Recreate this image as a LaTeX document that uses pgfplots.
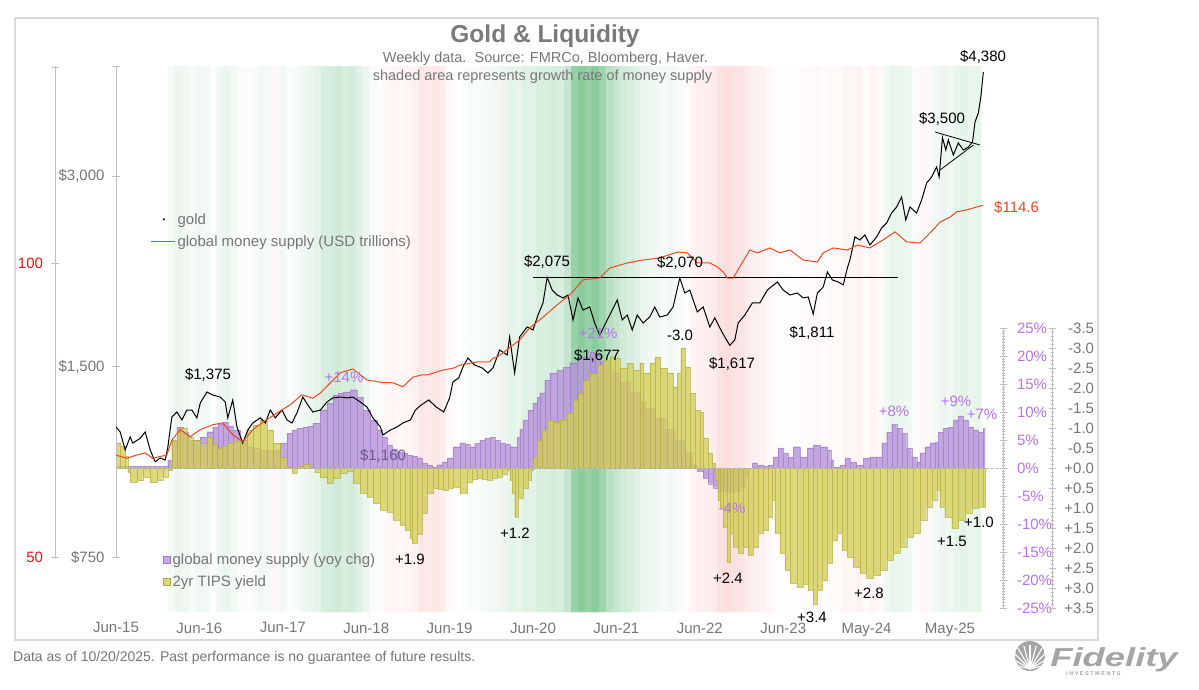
\documentclass[border=0pt]{standalone}
\usepackage{fontspec}
\setmainfont{Liberation Sans}
\usepackage{pgfplots}
\usepackage{pgfplotstable}
\pgfplotsset{compat=1.18}
\pgfplotsset{/pgf/number format/assume math mode=true}

\definecolor{txtgray}{RGB}{118,118,118}
\definecolor{ttlgray}{RGB}{122,122,122}
\definecolor{framegray}{RGB}{218,218,218}
\definecolor{axgray}{RGB}{190,190,190}
\definecolor{moneyred}{RGB}{234,72,30}
\definecolor{lblred}{RGB}{228,20,20}
\definecolor{purp}{RGB}{184,148,220}
\definecolor{purpD}{RGB}{160,124,200}
\definecolor{purptxt}{RGB}{183,115,232}
\definecolor{yel}{RGB}{212,206,86}
\definecolor{yelD}{RGB}{178,172,60}
\definecolor{purpgray}{RGB}{108,88,140}
\definecolor{logogray}{RGB}{165,165,165}

\newcommand{\fnt}{\fontsize{15}{18}\selectfont}

% shading: month index since Jun-15, signed growth intensity
\pgfplotstableread{
k c
0 0
1 0
2 0
3 0
4 0
5 0
6 0
7 0
8 0.08
9 0.15
10 0.12
11 0.06
12 0.12
13 0.10
14 0.02
15 0.12
16 0.15
17 0.10
18 0.05
19 0.04
20 0.06
21 0.10
22 0.08
23 -0.15
24 0.10
25 0.04
26 0.06
27 0.12
28 0.15
29 0.20
30 0.30
31 0.32
32 0.35
33 0.30
34 0.33
35 0.25
36 0.15
37 0.05
38 0.03
39 -0.15
40 -0.20
41 -0.15
42 -0.20
43 -0.25
44 -0.45
45 -0.40
46 -0.45
47 -0.35
48 -0.10
49 -0.03
50 0.03
51 0.06
52 0.04
53 0.08
54 0.10
55 0.12
56 0.15
57 0.20
58 0.18
59 0.25
60 0.22
61 0.30
62 0.28
63 0.32
64 0.30
65 0.45
66 0.80
67 0.90
68 0.80
69 0.90
70 0.75
71 0.55
72 0.45
73 0.35
74 0.30
75 0.25
76 0.15
77 0.12
78 0.10
79 0.08
80 0.10
81 0.06
82 0.04
83 -0.20
84 -0.30
85 -0.30
86 -0.35
87 -0.55
88 -0.60
89 -0.55
90 -0.50
91 -0.35
92 -0.30
93 -0.25
94 -0.15
95 -0.05
96 0.02
97 -0.05
98 0.00
99 -0.08
100 -0.10
101 -0.15
102 -0.08
103 -0.12
104 -0.10
105 -0.20
106 -0.15
107 -0.25
108 -0.10
109 -0.20
110 -0.10
111 0.12
112 0.18
113 0.15
114 0.12
115 0.05
116 -0.15
117 -0.12
118 0.10
119 0.15
120 0.12
121 0.18
122 0.20
123 0.15
124 0.18
}\shadeT
\pgfplotstablevertcat{\shadeTT}{\shadeT}
\pgfplotstablevertcat{\shadeTT}{\shadeT}

\pgfplotstableread{
x p
2015.45 1204
2015.50 1182
2015.56 1107
2015.62 1161
2015.65 1135
2015.74 1155
2015.80 1182
2015.86 1107
2015.92 1060
2015.98 1075
2016.04 1067
2016.07 1115
2016.12 1248
2016.18 1271
2016.24 1235
2016.30 1280
2016.36 1280
2016.42 1244
2016.46 1313
2016.54 1367
2016.61 1352
2016.70 1342
2016.76 1318
2016.79 1244
2016.85 1328
2016.90 1204
2016.97 1135
2017.03 1190
2017.09 1221
2017.18 1244
2017.24 1221
2017.30 1280
2017.36 1244
2017.44 1280
2017.50 1235
2017.56 1221
2017.62 1267
2017.69 1342
2017.75 1304
2017.81 1271
2017.90 1280
2017.98 1318
2018.05 1338
2018.14 1342
2018.22 1338
2018.29 1342
2018.38 1318
2018.46 1294
2018.53 1244
2018.62 1204
2018.65 1169
2018.74 1190
2018.82 1204
2018.89 1221
2018.98 1235
2019.04 1280
2019.11 1304
2019.20 1328
2019.29 1294
2019.38 1271
2019.45 1338
2019.49 1418
2019.56 1439
2019.61 1497
2019.67 1547
2019.75 1508
2019.84 1492
2019.91 1465
2019.97 1492
2020.05 1593
2020.14 1564
2020.17 1670
2020.23 1465
2020.29 1670
2020.38 1732
2020.45 1713
2020.51 1809
2020.57 1890
2020.62 2075
2020.68 1981
2020.74 1946
2020.81 1925
2020.87 1946
2020.93 1777
2020.99 1925
2021.05 1842
2021.13 1863
2021.19 1757
2021.25 1680
2021.34 1777
2021.40 1842
2021.46 1911
2021.52 1777
2021.58 1809
2021.64 1713
2021.70 1809
2021.77 1757
2021.85 1796
2021.91 1863
2021.97 1796
2022.06 1809
2022.13 1863
2022.21 2070
2022.27 1960
2022.33 1981
2022.42 1829
2022.49 1863
2022.57 1732
2022.63 1790
2022.69 1726
2022.75 1670
2022.81 1620
2022.87 1652
2022.91 1757
2022.99 1809
2023.08 1890
2023.17 1890
2023.26 1981
2023.38 2040
2023.45 1981
2023.53 1946
2023.62 1960
2023.69 1925
2023.75 1932
2023.81 1815
2023.86 1960
2023.93 2003
2023.98 2116
2024.04 2055
2024.11 2040
2024.17 2018
2024.22 2147
2024.25 2210
2024.31 2403
2024.37 2377
2024.43 2420
2024.49 2334
2024.57 2403
2024.63 2483
2024.69 2528
2024.75 2622
2024.81 2680
2024.87 2779
2024.92 2556
2024.97 2680
2025.05 2622
2025.11 2749
2025.17 2925
2025.23 2989
2025.29 3100
2025.32 2989
2025.36 3450
2025.40 3298
2025.43 3420
2025.49 3238
2025.55 3383
2025.61 3298
2025.67 3334
2025.72 3395
2025.75 3651
2025.79 3773
2025.82 3999
2025.85 4380
}\goldT

\pgfplotstableread{
x m
2015.44 63.6
2015.58 63.1
2015.70 63.6
2015.80 63.9
2015.89 63.1
2016.06 63.6
2016.12 65.9
2016.22 67.5
2016.34 66.4
2016.46 67.5
2016.61 68.3
2016.73 68.6
2016.85 66.7
2016.97 65.6
2017.09 67.5
2017.21 68.7
2017.38 70.2
2017.54 71.6
2017.68 73.3
2017.81 72.7
2017.90 73.6
2018.02 75.4
2018.14 77.2
2018.29 77.9
2018.46 75.9
2018.62 75.5
2018.77 75.4
2018.89 74.7
2019.01 76.4
2019.11 76.8
2019.18 76.8
2019.37 77.7
2019.51 78.1
2019.57 78.6
2019.71 79.0
2019.78 79.2
2019.93 79.2
2019.97 79.9
2020.02 80.1
2020.14 81.5
2020.29 83.4
2020.41 85.8
2020.57 88.0
2020.74 90.6
2020.89 92.7
2021.05 96.1
2021.25 96.5
2021.37 98.8
2021.58 100.0
2021.77 100.7
2021.97 101.2
2022.18 102.6
2022.30 102.4
2022.42 100.0
2022.49 100.0
2022.57 100.0
2022.66 99.1
2022.73 97.9
2022.78 96.5
2022.85 96.5
2022.93 99.1
2023.05 103.1
2023.14 102.4
2023.29 103.6
2023.41 102.4
2023.53 103.1
2023.69 100.7
2023.86 100.2
2023.93 102.4
2024.05 103.6
2024.22 103.1
2024.34 104.3
2024.49 103.6
2024.65 105.6
2024.79 107.6
2024.93 105.1
2025.09 104.8
2025.21 107.3
2025.33 110.1
2025.45 111.4
2025.53 112.8
2025.65 113.3
2025.77 114.1
2025.85 114.6
}\moneyT

\pgfplotstableread{
x g
2015.45 0.3
2016.07 1.4
2016.12 5.0
2016.18 7.3
2016.25 6.5
2016.31 5.0
2016.37 5.0
2016.46 5.5
2016.54 6.5
2016.61 7.3
2016.67 7.8
2016.73 8.2
2016.79 7.5
2016.85 6.8
2016.94 5.0
2017.02 3.8
2017.09 3.5
2017.18 3.2
2017.26 3.2
2017.33 3.2
2017.42 4.5
2017.50 6.2
2017.56 6.8
2017.62 7.1
2017.69 7.3
2017.75 7.5
2017.81 8.0
2017.90 10.4
2017.98 11.6
2018.05 13.0
2018.11 13.4
2018.17 13.6
2018.26 14.0
2018.34 12.7
2018.41 10.4
2018.50 8.6
2018.58 6.8
2018.64 5.5
2018.70 4.1
2018.76 3.4
2018.82 2.9
2018.88 2.6
2018.94 2.3
2019.00 2.1
2019.06 1.8
2019.12 0.9
2019.18 0.5
2019.24 0.2
2019.30 0.6
2019.36 1.1
2019.42 1.8
2019.49 3.8
2019.57 4.5
2019.63 4.2
2019.69 3.8
2019.75 4.4
2019.81 5.0
2019.87 5.3
2019.93 5.5
2019.99 5.0
2020.05 4.5
2020.11 4.2
2020.17 3.8
2020.26 5.5
2020.29 7.0
2020.33 8.6
2020.39 10.4
2020.45 11.6
2020.50 12.6
2020.53 13.4
2020.59 15.7
2020.65 17.0
2020.74 17.5
2020.81 18.0
2020.89 18.8
2020.98 19.8
2021.05 19.8
2021.13 20.7
2021.19 20.2
2021.25 19.0
2021.37 17.0
2021.49 15.3
2021.61 13.5
2021.73 11.7
2021.80 10.7
2021.91 9.0
2022.03 7.0
2022.15 5.0
2022.27 2.8
2022.36 0.5
2022.42 -0.5
2022.49 -1.8
2022.55 -2.8
2022.61 -3.5
2022.67 -4.2
2022.75 -4.3
2022.85 -4.1
2022.93 -3.2
2022.99 -1.5
2023.03 0.0
2023.08 0.9
2023.14 0.5
2023.21 0.3
2023.27 0.5
2023.33 2.0
2023.39 3.6
2023.45 2.6
2023.51 2.0
2023.57 3.8
2023.65 2.0
2023.74 3.6
2023.81 4.1
2023.89 3.8
2023.98 3.2
2024.02 1.5
2024.05 0.2
2024.13 0.5
2024.19 1.8
2024.25 1.0
2024.33 0.5
2024.41 1.8
2024.49 2.0
2024.57 2.0
2024.63 4.5
2024.69 6.4
2024.75 7.8
2024.81 7.1
2024.87 6.2
2024.93 3.6
2024.99 2.0
2025.05 1.1
2025.09 2.7
2025.15 3.8
2025.21 4.5
2025.27 4.6
2025.31 6.4
2025.37 7.1
2025.43 7.3
2025.49 8.6
2025.55 9.3
2025.61 8.6
2025.67 7.3
2025.73 6.8
2025.79 6.4
2025.85 7.1
2025.87 7.1
}\purpT

\pgfplotstableread{
x t
2015.45 -0.62
2015.50 -0.55
2015.56 -0.30
2015.59 0.10
2015.62 0.35
2015.70 0.30
2015.77 0.22
2015.86 0.35
2015.94 0.30
2016.01 0.22
2016.07 0.05
2016.12 -0.70
2016.18 -0.90
2016.22 -1.00
2016.30 -0.78
2016.37 -0.70
2016.46 -0.62
2016.54 -0.78
2016.60 -0.60
2016.66 -0.50
2016.72 -0.55
2016.78 -0.62
2016.85 -0.68
2016.94 -0.70
2017.02 -0.95
2017.09 -1.07
2017.18 -1.20
2017.26 -0.95
2017.33 -0.62
2017.42 -0.28
2017.50 -0.02
2017.56 0.12
2017.62 -0.05
2017.69 -0.10
2017.78 0.00
2017.84 0.10
2017.90 0.22
2017.98 0.38
2018.05 0.25
2018.14 0.12
2018.22 0.08
2018.29 0.38
2018.38 0.62
2018.46 0.72
2018.53 0.88
2018.62 1.05
2018.70 1.10
2018.77 1.30
2018.86 1.42
2018.92 1.55
2018.98 1.75
2019.00 1.88
2019.06 1.65
2019.12 1.12
2019.18 0.62
2019.25 0.50
2019.31 0.52
2019.37 0.55
2019.43 0.50
2019.49 0.47
2019.57 0.62
2019.66 0.35
2019.72 0.28
2019.78 0.25
2019.84 0.28
2019.90 0.30
2019.96 0.25
2020.02 0.22
2020.08 0.15
2020.14 0.05
2020.17 0.30
2020.20 0.62
2020.23 1.22
2020.27 0.75
2020.33 0.50
2020.39 0.30
2020.43 0.05
2020.45 -0.28
2020.50 -0.70
2020.56 -0.95
2020.62 -1.20
2020.69 -1.15
2020.77 -1.20
2020.86 -1.37
2020.93 -1.70
2020.99 -1.87
2021.05 -2.20
2021.13 -2.37
2021.22 -2.57
2021.29 -2.70
2021.37 -2.78
2021.43 -2.75
2021.49 -2.50
2021.58 -2.62
2021.65 -2.45
2021.73 -2.62
2021.77 -2.37
2021.85 -2.62
2021.91 -2.78
2021.97 -2.50
2022.06 -2.37
2022.13 -2.03
2022.18 -2.37
2022.22 -3.00
2022.27 -2.53
2022.33 -1.87
2022.39 -1.45
2022.45 -1.40
2022.49 -0.75
2022.55 -0.37
2022.60 -0.12
2022.63 0.30
2022.67 0.80
2022.69 0.97
2022.73 1.47
2022.78 2.35
2022.81 1.62
2022.85 1.97
2022.91 2.12
2022.97 1.97
2023.03 2.17
2023.09 1.97
2023.15 1.62
2023.21 1.55
2023.27 1.22
2023.32 0.80
2023.35 1.62
2023.41 2.12
2023.47 2.55
2023.53 2.87
2023.62 2.97
2023.69 2.90
2023.75 3.05
2023.81 3.40
2023.86 3.05
2023.92 2.80
2023.98 2.37
2024.04 1.80
2024.10 1.62
2024.16 2.05
2024.22 2.22
2024.29 2.47
2024.37 2.62
2024.45 2.75
2024.53 2.67
2024.61 2.55
2024.69 2.30
2024.77 2.12
2024.85 1.97
2024.93 1.72
2025.01 1.62
2025.09 1.30
2025.17 0.97
2025.23 0.80
2025.29 0.55
2025.33 0.97
2025.39 1.22
2025.47 1.50
2025.55 1.30
2025.63 1.12
2025.71 1.00
2025.79 0.97
2025.85 0.97
2025.87 0.97
}\tipsT

\pgfplotsset{
  databox/.style={scale only axis, width=869pt, xmin=2015.45, xmax=2025.87},
}

\begin{document}
\begin{tikzpicture}
\begin{scope}[x=1pt,y=-1pt]
  \fill[white] (0,0) rectangle (1199,690);
  \path[use as bounding box] (0,0) rectangle (1199,690);
  \draw[framegray, line width=1.3pt] (15,18) rectangle (1098,640);
  \coordinate (B) at (116,612);
  \coordinate (G) at (116,557);
  \coordinate (R) at (55,557);
  \coordinate (P) at (1003,608);
  \coordinate (T) at (1052,608);
\end{scope}

% background shading and date labels
\begin{axis}[databox, at={(B)}, anchor=south west, height=546pt,
  ymin=-0.5, ymax=1.5, hide y axis, axis x line*=bottom,
  x axis line style={draw=none}, xtick style={draw=none},
  xtick={2015.45,2016.45,2017.45,2018.45,2019.45,2020.45,2021.45,2022.45,2023.45,2024.45,2025.45},
  xticklabels={Jun-15,Jun-16,Jun-17,Jun-18,Jun-19,Jun-20,Jun-21,Jun-22,Jun-23,May-24,May-25},
  xticklabel style={font=\fnt, text=txtgray, yshift=-7pt},
  colormap={bgshade}{rgb255=(248,202,202) rgb255=(255,255,255) rgb255=(125,198,145)},
  point meta min=-1, point meta max=1]
\addplot[matrix plot*, mesh/cols=125, mesh/rows=2, point meta=explicit]
  table[x expr={2015.45+\thisrow{k}/12}, y expr={\coordindex<125 ? 0 : 1}, meta=c] {\shadeTT};
\end{axis}

% money supply growth bars
\begin{axis}[databox, at={(B)}, anchor=south west, height=546pt,
  ymin=-25.714, ymax=71.786, hide axis]
\addplot[ybar interval, fill=purp, fill opacity=0.82, draw=purpD, draw opacity=0.7, line width=0.2pt] table[x=x,y=g] {\purpT};
\end{axis}

% TIPS yield bars (inverted)
\begin{axis}[databox, at={(B)}, anchor=south west, height=546pt,
  y dir=reverse, ymin=-10.05, ymax=3.6, hide axis, clip=false,
  legend style={draw=none, fill=none, at={(0.0541,0.1117)}, anchor=north west,
    font=\fnt, text=txtgray, inner sep=0pt, row sep=6pt},
  legend cell align=left]
\addplot[ybar interval, fill=yel, fill opacity=0.78, draw=yelD, draw opacity=0.7, line width=0.2pt, forget plot] table[x=x,y=t] {\tipsT};
\addplot[axgray, densely dashed, line width=0.6pt, forget plot] coordinates {(2015.45,0) (2026.09,0)};
\addlegendimage{legend image code/.code={\fill[purp!80!white] (0pt,-3.5pt) rectangle (7pt,3.5pt); \draw[purpD, line width=0.4pt] (0pt,-3.5pt) rectangle (7pt,3.5pt);}}
\addlegendentry{global money supply (yoy chg)}
\addlegendimage{legend image code/.code={\fill[yel!80!white] (0pt,-3.5pt) rectangle (7pt,3.5pt); \draw[yelD, line width=0.4pt] (0pt,-3.5pt) rectangle (7pt,3.5pt);}}
\addlegendentry{2yr TIPS yield}
\end{axis}

% gold (log) with its axis
\begin{axis}[databox, at={(G)}, anchor=south west, height=491pt,
  ymode=log, ymin=750, ymax=4477, axis x line=none, axis y line*=left,
  y axis line style={axgray, line width=0.8pt},
  ytick={750,1500,3000}, yticklabels={\$750,{\$1,500},{\$3,000}},
  extra y ticks={4470}, extra y tick labels={}, yminorticks=false,
  tick align=center, major tick length=8pt, ytick style={axgray, line width=0.8pt},
  yticklabel style={text=txtgray, font=\fnt, xshift=-4pt},
  legend style={draw=none, fill=none, at={(0.0391,0.7047)}, anchor=north west,
    font=\fnt, text=txtgray, inner sep=0pt, row sep=6pt},
  legend cell align=left]
\addplot[black, line width=1pt, forget plot] table[x=x,y=p] {\goldT};
\addplot[black, line width=0.8pt, forget plot] coordinates {(2020.45,2075) (2024.83,2075)};
\addplot[black, line width=0.8pt, forget plot] coordinates {(2025.27,3521) (2025.81,3358)};
\addplot[black, line width=0.8pt, forget plot] coordinates {(2025.33,3066) (2025.73,3358)};
\addlegendimage{legend image code/.code={\path[draw=none,fill=none] (0pt,0pt) -- (24pt,0pt); \fill[black] (13pt,0pt) circle (0.9pt);}}
\addlegendentry{gold}
\addlegendimage{legend image code/.code={\draw[moneyred, line width=1.4pt] (0pt,0pt) -- (24pt,0pt);}}
\addlegendentry{global money supply (USD trillions)}
\end{axis}

% money supply level (log)
\begin{axis}[databox, at={(G)}, anchor=south west, height=491pt,
  ymode=log, ymin=50, ymax=159.1, hide axis]
\addplot[moneyred, line width=1pt] table[x=x,y=m] {\moneyT};
\end{axis}

% red money scale
\begin{axis}[at={(R)}, anchor=south west, scale only axis, width=2pt, height=491pt,
  xmin=0, xmax=1, ymode=log, ymin=50, ymax=159.1,
  axis x line=none, axis y line*=left, y axis line style={axgray, line width=0.8pt},
  ytick={50,100}, yticklabels={50,100}, extra y ticks={158.5}, extra y tick labels={}, yminorticks=false,
  tick align=center, major tick length=7pt, ytick style={axgray, line width=0.8pt},
  yticklabel style={text=lblred, font=\fnt, xshift=-5pt}]
\end{axis}

% purple percent scale
\begin{axis}[at={(P)}, anchor=south east, scale only axis, width=2pt, height=280pt,
  xmin=0, xmax=1, ymin=-25, ymax=25,
  axis x line=none, axis y line*=right, y axis line style={axgray, line width=0.8pt},
  ytick={-25,-20,-15,-10,-5,0,5,10,15,20,25},
  yticklabels={-25\%,-20\%,-15\%,-10\%,-5\%,0\%,5\%,10\%,15\%,20\%,25\%},
  minor y tick num=9, tick align=center, major tick length=7pt, minor tick length=3pt,
  ytick style={axgray, line width=0.6pt}, minor y tick style={axgray, line width=0.4pt},
  yticklabel style={text=purptxt, font=\fnt, anchor=west, xshift=7pt}]
\end{axis}

% TIPS scale
\begin{axis}[at={(T)}, anchor=south east, scale only axis, width=2pt, height=280pt,
  xmin=0, xmax=1, ymin=-3.5, ymax=3.5, y dir=reverse,
  axis x line=none, axis y line*=right, y axis line style={axgray, line width=0.8pt},
  ytick={-3.5,-3,-2.5,-2,-1.5,-1,-0.5,0,0.5,1,1.5,2,2.5,3,3.5},
  yticklabels={-3.5,-3.0,-2.5,-2.0,-1.5,-1.0,-0.5,+0.0,+0.5,+1.0,+1.5,+2.0,+2.5,+3.0,+3.5},
  minor y tick num=4, tick align=center, major tick length=7pt, minor tick length=3pt,
  ytick style={axgray, line width=0.6pt}, minor y tick style={axgray, line width=0.4pt},
  yticklabel style={text=txtgray, font=\fnt, anchor=west, text width=30pt, align=right, xshift=5pt}]
\end{axis}

\begin{scope}[x=1pt,y=-1pt]
  % titles
  \node[anchor=base, font=\fontsize{24.5}{29}\selectfont\bfseries, text=ttlgray] at (545,43) {Gold \& Liquidity};
  \node[anchor=base, font=\fontsize{14.5}{17}\selectfont, text=txtgray] at (545.5,63) {Weekly data.\ \ Source: FMRCo, Bloomberg, Haver.};
  \node[anchor=base, font=\fontsize{14.5}{17}\selectfont, text=txtgray] at (542.5,80.5) {shaded area represents growth rate of money supply};
  % annotations
  \begin{scope}[every node/.style={anchor=base, font=\fnt, inner sep=0pt}]
    \node at (547,266.4) {\$2,075};
    \node at (680,267.4) {\$2,070};
    \node at (208,379.4) {\$1,375};
    \node[text=purptxt] at (344,382.4) {+14\%};
    \node[text=purpgray] at (383,460.4) {\$1,160};
    \node at (410,564.4) {+1.9};
    \node at (515,538.4) {+1.2};
    \node[text=purptxt] at (598,338.4) {+21\%};
    \node at (597,360.4) {\$1,677};
    \node at (680,340.4) {-3.0};
    \node at (732,368.4) {\$1,617};
    \node at (812,337.4) {\$1,811};
    \node at (728,583.4) {+2.4};
    \node[text=purptxt] at (732,513.4) {-4\%};
    \node at (812,622.4) {+3.4};
    \node at (869,598.4) {+2.8};
    \node[text=purptxt] at (894,416.4) {+8\%};
    \node[text=purptxt] at (956,406.4) {+9\%};
    \node[text=purptxt] at (982,419.4) {+7\%};
    \node at (952,546.4) {+1.5};
    \node at (979,527.4) {+1.0};
    \node at (942,123.4) {\$3,500};
    \node at (983,61.4) {\$4,380};
    \node[anchor=base west, text=moneyred] at (994,212.4) {\$114.6};
  \end{scope}
  % footer
  \node[anchor=base west, font=\fontsize{14}{17}\selectfont, text=txtgray, inner sep=0pt] at (13,661) {Data as of 10/20/2025. Past performance is no guarantee of future results.};
  % logo
  \begin{scope}
    \clip (1030,656) circle (15);
    \fill[logogray] (1030,656) circle (15);
    \foreach \a in {15,30,...,165} \draw[white, line width=1.1pt] (1030,669) -- +(-\a:24);
  \end{scope}
  \node[anchor=base west, font=\fontsize{26}{30}\selectfont\bfseries\itshape, text=logogray, inner sep=0pt, xscale=1.4, transform shape] at (1050,666) {Fidelity};
  \node[anchor=base west, font=\fontsize{5.5}{6}\selectfont\bfseries, text=logogray, inner sep=0pt] at (1066,675) {I N V E S T M E N T S};
\end{scope}
\end{tikzpicture}
\end{document}
